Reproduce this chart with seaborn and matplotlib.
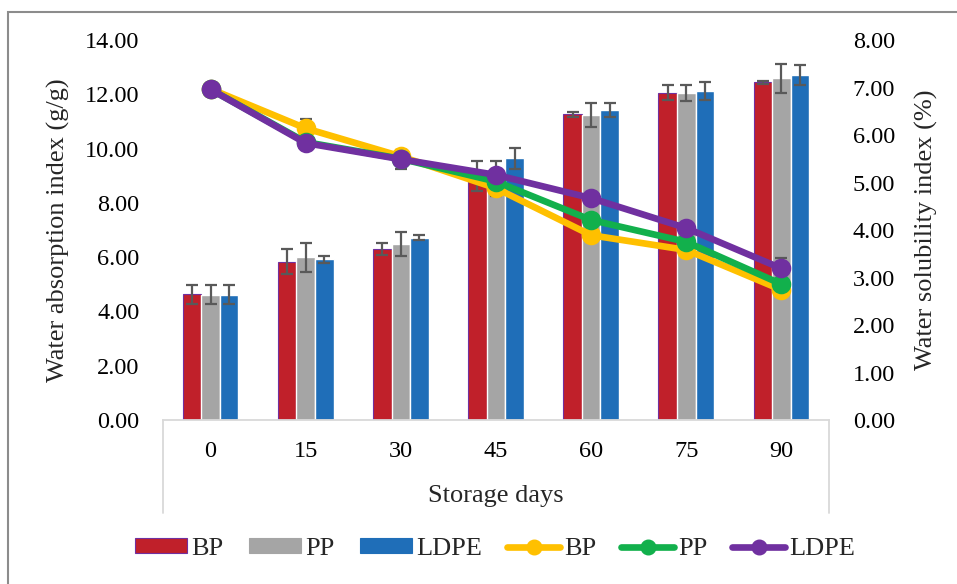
import numpy as np
import pandas as pd
import matplotlib
matplotlib.use("Agg")
import matplotlib.pyplot as plt
from matplotlib.ticker import FormatStrFormatter
from matplotlib.patches import Patch, Rectangle
from matplotlib.lines import Line2D
import seaborn as sns

# Storage days and packaging types
days = [0, 15, 30, 45, 60, 75, 90]
packs = ["BP", "PP", "LDPE"]

# Water absorption index (g/g), bars on the left axis
wai_bp = [4.64, 5.83, 6.29, 9.00, 11.26, 12.06, 12.44]
wai_pp = [4.62, 6.00, 6.50, 8.90, 11.24, 12.05, 12.59]
wai_ldpe = [4.62, 5.92, 6.72, 9.64, 11.42, 12.13, 12.71]
wai_err_bp = [0.35, 0.46, 0.22, 0.55, 0.10, 0.28, 0.05]
wai_err_pp = [0.35, 0.53, 0.44, 0.65, 0.45, 0.31, 0.53]
wai_err_ldpe = [0.35, 0.12, 0.10, 0.38, 0.27, 0.34, 0.38]

# Water solubility index (%), lines on the right axis
wsi_bp = [6.97, 6.14, 5.55, 4.88, 3.89, 3.58, 2.74]
wsi_pp = [6.96, 5.85, 5.50, 5.02, 4.21, 3.75, 2.86]
wsi_ldpe = [6.96, 5.83, 5.49, 5.16, 4.67, 4.04, 3.19]
wsi_err_bp = [0.10, 0.20, 0.12, 0.10, 0.08, 0.10, 0.08]
wsi_err_pp = [0.10, 0.10, 0.10, 0.10, 0.10, 0.10, 0.08]
wsi_err_ldpe = [0.10, 0.10, 0.20, 0.08, 0.08, 0.08, 0.22]

bar_colors = ["#C0202A", "#A5A5A5", "#1F6EB8"]
line_colors = ["#FFC000", "#12B04C", "#7030A0"]
err_color = "#595959"
fs_tick = 17.5
fs_label = 19
fs_legend = 19

day_labels = [str(d) for d in days]
bars = pd.DataFrame({
    "day": day_labels * 3,
    "pack": np.repeat(packs, len(days)),
    "wai": wai_bp + wai_pp + wai_ldpe,
})
lines = pd.DataFrame({
    "day": day_labels * 3,
    "pack": np.repeat(packs, len(days)),
    "wsi": wsi_bp + wsi_pp + wsi_ldpe,
})

sns.set_theme(style="white")
plt.rcParams["font.family"] = ["Liberation Serif", "DejaVu Serif"]

fig = plt.figure(figsize=(9.57, 5.84), dpi=100)
ax = fig.add_axes([0.1703, 0.2808, 0.696, 0.6507])

sns.barplot(data=bars, x="day", y="wai", hue="pack", order=day_labels,
            hue_order=packs, palette=bar_colors, width=0.585, saturation=1,
            errorbar=None, legend=False, ax=ax)
for p in ax.containers[0]:
    p.set_edgecolor("#7030A0")
    p.set_linewidth(0.8)
for cont, err in zip(ax.containers, [wai_err_bp, wai_err_pp, wai_err_ldpe]):
    xs = [p.get_x() + p.get_width() / 2 for p in cont]
    hs = [p.get_height() for p in cont]
    ax.errorbar(xs, hs, yerr=err, fmt="none", ecolor=err_color,
                elinewidth=1.6, capsize=4.5, capthick=1.6, zorder=3)

ax2 = ax.twinx()
sns.pointplot(data=lines, x="day", y="wsi", hue="pack", order=day_labels,
              hue_order=packs, palette=line_colors, errorbar=None,
              markers="o", linestyles="-", legend=False, ax=ax2,
              markersize=10.5, linewidth=4.8)
xpos = np.arange(len(days))
for vals, err in zip([wsi_bp, wsi_pp, wsi_ldpe],
                     [wsi_err_bp, wsi_err_pp, wsi_err_ldpe]):
    ax2.errorbar(xpos, vals, yerr=err, fmt="none", ecolor=err_color,
                 elinewidth=1.6, capsize=4.5, capthick=1.6, zorder=1.5)

for a in (ax, ax2):
    a.set_xlim(-0.5, len(days) - 0.5)
ax.set_ylim(0, 14)
ax2.set_ylim(0, 8)
ax.set_yticks(np.arange(0, 15, 2))
ax2.set_yticks(np.arange(0, 9, 1))
ax.yaxis.set_major_formatter(FormatStrFormatter("%.2f"))
ax2.yaxis.set_major_formatter(FormatStrFormatter("%.2f"))

for s in ("top", "right", "left"):
    ax.spines[s].set_visible(False)
ax.spines["bottom"].set_color("#D9D9D9")
ax.spines["bottom"].set_linewidth(1.3)
for s in ax2.spines.values():
    s.set_visible(False)

ax.tick_params(axis="x", length=0, pad=15, labelsize=fs_tick, colors="black")
ax.tick_params(axis="y", length=0, pad=17, labelsize=fs_tick, colors="black")
ax2.tick_params(axis="y", length=0, pad=17, labelsize=fs_tick, colors="black")
ax2.set_ylabel("Water solubility index (%)", fontsize=fs_label, labelpad=14)
ax.set_ylabel("Water absorption index (g/g)", fontsize=fs_label, labelpad=11)
ax.set_xlabel("Storage days", fontsize=fs_label, labelpad=17)

# Category-axis end ticks extending down past the labels
for xa in (0, 1):
    ax.add_line(Line2D([xa, xa], [0, -0.245], transform=ax.transAxes,
                       color="#D9D9D9", lw=1.3, clip_on=False))

handles = [Patch(facecolor=c, edgecolor=("#7030A0" if i == 0 else c), lw=0.8)
           for i, c in enumerate(bar_colors)]
handles += [Line2D([], [], color=c, lw=4.8, marker="o", markersize=10.5)
            for c in line_colors]
fig.legend(handles, packs + packs, loc="center", bbox_to_anchor=(0.517, 0.06),
           ncol=6, frameon=False, fontsize=fs_legend, handlelength=2.0,
           handleheight=0.5, handletextpad=0.15, columnspacing=0.95)

# Outer chart frame
fig.add_artist(Rectangle((0.0084, -0.05), 1.2, 0.9795 + 0.05,
                         transform=fig.transFigure, fill=False,
                         edgecolor="#8C8C8C", lw=1.5))

fig.savefig("out.png", dpi=100)
